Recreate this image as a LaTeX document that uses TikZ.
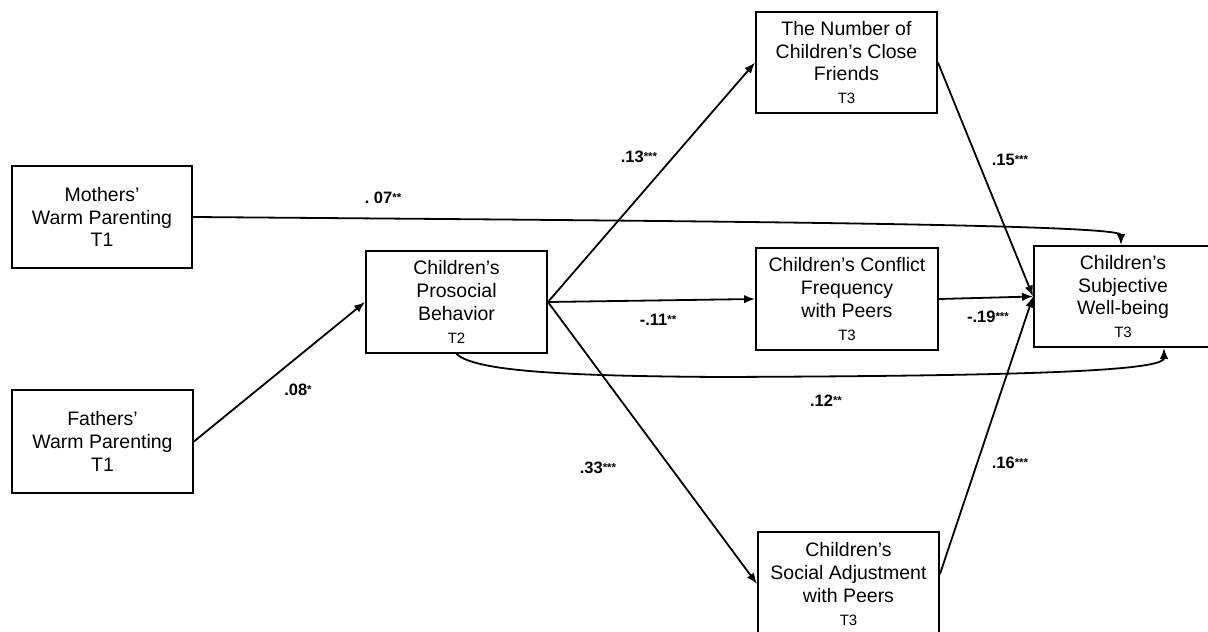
\documentclass[tikz,border=0pt]{standalone}
\usepackage{fontspec}
\setmainfont{Liberation Sans}
\usetikzlibrary{arrows.meta}
\newcommand\sig[1]{\raisebox{2.5pt}{\fontsize{11.5}{11.5}\selectfont #1}}
\newcommand\tlab[1]{{\fontsize{15}{15}\selectfont #1}}
\begin{document}
\begin{tikzpicture}[x=1pt,y=-1pt,
  box/.style={draw,line width=1.9pt,inner sep=0pt,align=center,
    font=\fontsize{19.5}{22.8}\selectfont},
  arr/.style={-{Latex[length=11pt,width=8.5pt]},line width=1.8pt},
  lab/.style={font=\bfseries\fontsize{16.5}{16.5}\selectfont,inner sep=1pt}]
\useasboundingbox (0,0) rectangle (1208,632);
\fill[white] (0,0) rectangle (1208,632);

\node[box,minimum width=180pt,minimum height=102pt] (M) at (102,217)
  {Mothers'\\Warm Parenting\\T1};
\node[box,minimum width=181pt,minimum height=103pt] (F) at (102.5,441.5)
  {Fathers'\\Warm Parenting\\T1};
\node[box,minimum width=181pt,minimum height=102pt] (P) at (456.5,302)
  {Children's\\Prosocial\\Behavior\\\tlab{T2}};
\node[box,minimum width=181pt,minimum height=101pt] (N) at (846.5,62.5)
  {The Number of\\Children's Close\\Friends\\\tlab{T3}};
\node[box,minimum width=182pt,minimum height=102pt] (C) at (847,299)
  {Children's Conflict\\Frequency\\with Peers\\\tlab{T3}};
\node[box,minimum width=178pt,minimum height=101pt] (W) at (1123,296.5)
  {Children's\\Subjective\\Well-being\\\tlab{T3}};
\node[box,minimum width=181pt,minimum height=104pt] (S) at (848.5,584)
  {Children's\\Social Adjustment\\with Peers\\\tlab{T3}};

\draw[arr] (M.east) .. controls (700,221) and (1121,224) .. ([xshift=-2pt]W.north);
\draw[arr] (F.east) -- (P.west);
\draw[arr] (P.east) -- (N.west);
\draw[arr] (P.east) -- (C.west);
\draw[arr] (P.east) -- (S.west);
\draw[arr] (P.south) .. controls (475,371) and (560,376) .. (720,377)
  .. controls (1000,376) and (1164,372) .. ([xshift=41pt]W.south);
\draw[arr] (N.east) -- (W.west);
\draw[arr] (C.east) -- (W.west);
\draw[arr] ([yshift=10pt]S.east) -- (W.west);

\node[lab] (l07) at (383,198) {.\ 07\sig{**}};
\node[lab] (l08) at (298,390) {.08\sig{*}};
\node[lab] (l13) at (639,157) {.13\sig{***}};
\node[lab] (l11) at (658,320) {-.11\sig{**}};
\node[lab] (l33) at (598,468) {.33\sig{***}};
\node[lab] (l15) at (1010,160) {.15\sig{***}};
\node[lab] (l19) at (988,317) {-.19\sig{***}};
\node[lab] (l12) at (826,401) {.12\sig{**}};
\node[lab] (l16) at (1010,463) {.16\sig{***}};
\end{tikzpicture}
\end{document}
